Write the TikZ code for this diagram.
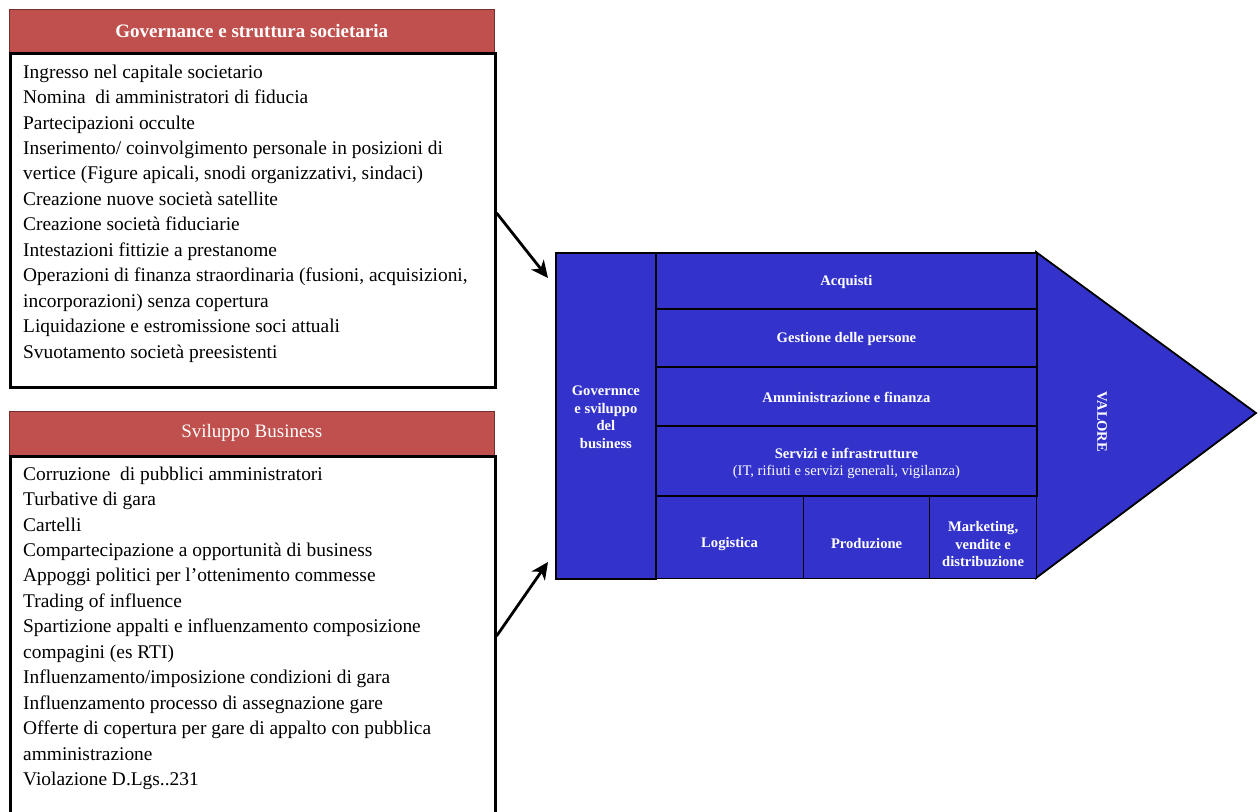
\documentclass[tikz,border=0pt]{standalone}
\usepackage{fontspec}
\setmainfont{Liberation Serif}
\usetikzlibrary{arrows.meta,calc}
\definecolor{hdr}{RGB}{192,80,77}
\definecolor{vcblue}{RGB}{51,51,204}
\begin{document}
\begin{tikzpicture}[x=1pt,y=-1pt,
  hdrbox/.style={fill=hdr, draw=hdr!60!black, line width=0.6pt, minimum width=485pt, anchor=north west, inner sep=0pt, text=white, font=\fontsize{19}{22}\selectfont},
  bodybox/.style={draw=black, fill=white, line width=2.6pt, minimum width=485pt, anchor=north west, inner sep=0pt},
  listtext/.style={anchor=north west, inner sep=0pt, align=left, font=\fontsize{19.4}{25.45}\selectfont},
  vcbox/.style={draw=black, fill=vcblue, line width=1.8pt, anchor=north west, inner sep=0pt},
  vctext/.style={text=white, align=center, inner sep=0pt, font=\fontsize{14.6}{17.5}\selectfont\bfseries},
  arr/.style={line width=2.8pt, -{Stealth[length=17pt,width=16pt,inset=5pt]}}
]
\useasboundingbox (0,0) rectangle (1260,811);

% Governance box
\node[hdrbox, minimum height=43pt] (ghdr) at (9,9) {\textbf{Governance e struttura societaria}};
\node[bodybox, minimum height=334pt] (gbody) at (9,52) {};
\node[listtext] (gtext) at (23,64.5) {Ingresso nel capitale societario\\
Nomina\ \ di amministratori di fiducia\\
Partecipazioni occulte\\
Inserimento/ coinvolgimento personale in posizioni di\\
vertice (Figure apicali, snodi organizzativi, sindaci)\\
Creazione nuove società satellite\\
Creazione società fiduciarie\\
Intestazioni fittizie a prestanome\\
Operazioni di finanza straordinaria (fusioni, acquisizioni,\\
incorporazioni) senza copertura\\
Liquidazione e estromissione soci attuali\\
Svuotamento società preesistenti};

% Sviluppo box
\node[hdrbox, minimum height=44pt] (shdr) at (9,411) {Sviluppo Business};
\node[bodybox, minimum height=380pt] (sbody) at (9,455) {};
\node[listtext] (stext) at (23,466.5) {Corruzione\ \ di pubblici amministratori\\
Turbative di gara\\
Cartelli\\
Compartecipazione a opportunità di business\\
Appoggi politici per l’ottenimento commesse\\
Trading of influence\\
Spartizione appalti e influenzamento composizione\\
compagini (es RTI)\\
Influenzamento/imposizione condizioni di gara\\
Influenzamento processo di assegnazione gare\\
Offerte di copertura per gare di appalto con pubblica\\
amministrazione\\
Violazione D.Lgs..231};

% Value chain
\draw[draw=black, fill=vcblue, line width=1.8pt] (1036,252) -- (1256,413) -- (1036,578) -- cycle;
\node[vcbox, line width=1.2pt, minimum width=148pt, minimum height=83pt] (log) at (655,495) {};
\node[vcbox, line width=1.2pt, minimum width=126pt, minimum height=83pt] (pro) at (803,495) {};
\node[vcbox, line width=1.2pt, minimum width=107pt, minimum height=83pt] (mkt) at (929,495) {};
\node[vcbox, minimum width=381pt, minimum height=56pt] (acq) at (655,252) {};
\node[vcbox, minimum width=381pt, minimum height=58pt] (ges) at (655,308) {};
\node[vcbox, minimum width=381pt, minimum height=59pt] (amm) at (655,366) {};
\node[vcbox, minimum width=381pt, minimum height=70pt] (ser) at (655,425) {};
\node[vcbox, minimum width=100pt, minimum height=326pt] (gov) at (555,252) {};

\node[vctext] (govt) at ($(gov.center)+(0,1.5)$) {Governnce\\e sviluppo\\del\\business};
\node[vctext] (acqt) at ($(acq.center)+(0,1.5)$) {Acquisti};
\node[vctext] (gest) at ($(ges.center)+(0,1.5)$) {Gestione delle persone};
\node[vctext] (ammt) at ($(amm.center)+(0,1)$) {Amministrazione e finanza};
\node[vctext] (sert) at ($(ser.center)+(0,2.5)$) {Servizi e infrastrutture\\{\mdseries (IT, rifiuti e servizi generali, vigilanza)}};
\node[vctext] (logt) at ($(log.center)+(0,6.5)$) {Logistica};
\node[vctext] (prot) at ($(pro.center)+(0,6.5)$) {Produzione};
\node[vctext] (mktt) at ($(mkt.center)+(0,7)$) {Marketing,\\vendite e\\distribuzione};
\node[text=white, font=\fontsize{14.5}{17}\selectfont\bfseries, rotate=-90, inner sep=0pt] (valore) at (1102,422) {VALORE};

% Arrows
\coordinate (a1s) at (gbody.east |- 0,213);
\coordinate (a1e) at (548,278);
\coordinate (a2s) at (sbody.east |- 0,636);
\coordinate (a2e) at (548,562);
\draw[arr] (a1s) -- (a1e);
\draw[arr] (a2s) -- (a2e);
\end{tikzpicture}
\end{document}
